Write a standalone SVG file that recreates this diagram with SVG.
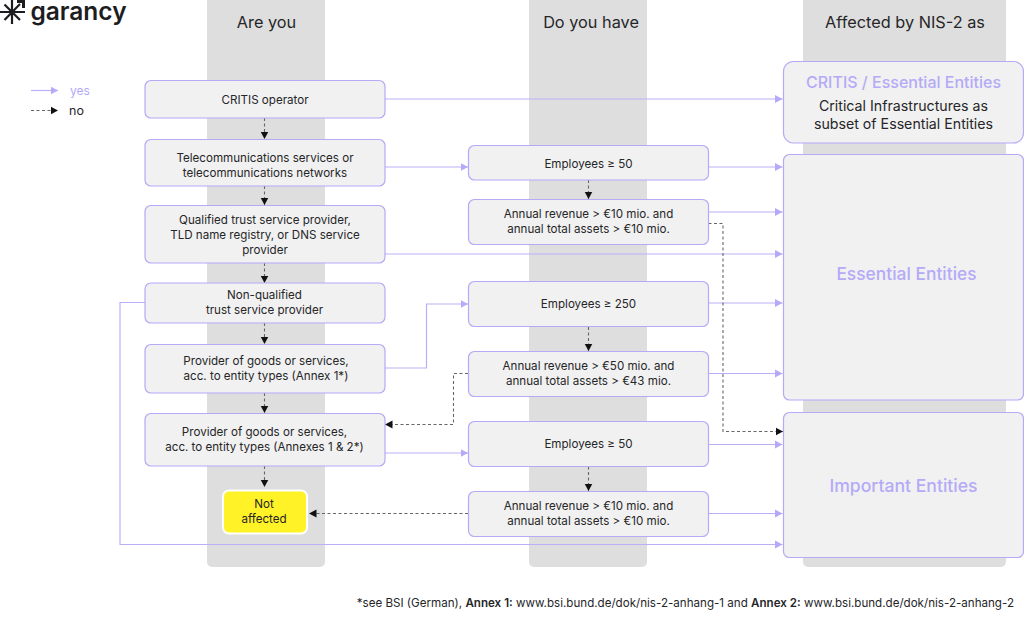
<svg xmlns="http://www.w3.org/2000/svg" width="1024" height="618" viewBox="0 0 1024 618">
<style>
text{font-family:Inter,"Noto Sans","Liberation Sans",sans-serif;fill:#262628;text-anchor:middle}
.t{font-size:11.600px}
.h{font-size:16.300px}
.col{fill:#dedede}
.n{fill:#f1f1f1;stroke:#b4aaf7;stroke-width:1.2}
.y{fill:none;stroke:#b9b0f8;stroke-width:1.2}
.d{fill:none;stroke:#666;stroke-width:1.1;stroke-dasharray:3 2.5}
.big{fill:#b4aaf7;font-weight:500}
</style>
<defs>
<marker id="ay" markerUnits="userSpaceOnUse" markerWidth="8" markerHeight="9" refX="7.500" refY="4.500" orient="auto"><path d="M0 .5L7.500 4.500L0 8.500Z" fill="#b4aaf7"/></marker>
<marker id="ad" markerUnits="userSpaceOnUse" markerWidth="8" markerHeight="9" refX="7.500" refY="4.500" orient="auto"><path d="M0 .5L7.500 4.500L0 8.500Z" fill="#111"/></marker>
</defs>
<g id="columns">
<rect class="col" x="207" y="-8" width="118" height="575" rx="5"/>
<rect class="col" x="529" y="-8" width="118" height="575" rx="5"/>
<rect class="col" x="803" y="-8" width="203" height="575" rx="5"/>
<text class="h" x="266.500" y="28">Are you</text>
<text class="h" x="591" y="28">Do you have</text>
<text class="h" x="905" y="28">Affected by NIS-2 as</text>
</g>
<g id="logo">
<path d="M12 0V24M0 12H25M4.500 4.500L20 20M4.500 20L20 4" fill="none" stroke="#1d1d1f" stroke-width="2.200"/>
<path d="M17 0H25V8L22 8V3H17Z" fill="#1d1d1f"/>
<text x="78.500" y="19.500" style="font-size:24.500px;font-weight:600;fill:#1d1d1f">garancy</text>
</g>
<g id="legend">
<path class="y" d="M31 90.500H58" marker-end="url(#ay)"/>
<text x="80" y="94.500" class="t" style="fill:#b4aaf7;font-size:12px">yes</text>
<path class="d" d="M31 110.500H58" marker-end="url(#ad)"/>
<text x="76.500" y="115" class="t" style="font-size:12.500px">no</text>
</g>
<g id="connectors">
<path class="y" d="M385 99H782.500" marker-end="url(#ay)"/>
<path class="y" d="M385 167H468" marker-end="url(#ay)"/>
<path class="y" d="M708.500 167H782.500" marker-end="url(#ay)"/>
<path class="y" d="M708.500 212H782.500" marker-end="url(#ay)"/>
<path class="y" d="M385 254H782.500" marker-end="url(#ay)"/>
<path class="y" d="M708.500 303H782.500" marker-end="url(#ay)"/>
<path class="y" d="M385 368H426.500V304H468" marker-end="url(#ay)"/>
<path class="y" d="M708.500 373.500H782.500" marker-end="url(#ay)"/>
<path class="y" d="M385 453H468" marker-end="url(#ay)"/>
<path class="y" d="M708.500 444.500H782.500" marker-end="url(#ay)"/>
<path class="y" d="M708.500 513.500H782.500" marker-end="url(#ay)"/>
<path class="y" d="M145 302.500H120V544.500H782.500" marker-end="url(#ay)"/>
<path class="d" d="M264.500 118V139" marker-end="url(#ad)"/>
<path class="d" d="M264.500 186V205" marker-end="url(#ad)"/>
<path class="d" d="M264.500 263V283" marker-end="url(#ad)"/>
<path class="d" d="M264.500 323V344" marker-end="url(#ad)"/>
<path class="d" d="M264.500 393V413" marker-end="url(#ad)"/>
<path class="d" d="M264.500 466V487" marker-end="url(#ad)"/>
<path class="d" d="M588.500 180V199" marker-end="url(#ad)"/>
<path class="d" d="M588.500 327V351" marker-end="url(#ad)"/>
<path class="d" d="M588.500 466.500V491" marker-end="url(#ad)"/>
<path class="d" d="M708.500 223.500H723V431.500H783" marker-end="url(#ad)"/>
<path class="d" d="M468 373.500H453.500V424.500H385" marker-end="url(#ad)"/>
<path class="d" d="M468 513.500H309" marker-end="url(#ad)"/>
</g>
<g id="n1"><rect class="n" x="145" y="80.500" width="240" height="37.500" rx="6"/><text class="t" x="265" y="104">CRITIS operator</text></g>
<g id="n2"><rect class="n" x="145" y="139.500" width="240" height="46.500" rx="6"/><text class="t" x="265" y="162">Telecommunications services or</text><text class="t" x="265" y="177">telecommunications networks</text></g>
<g id="n3"><rect class="n" x="145" y="205.500" width="240" height="57.500" rx="6"/><text class="t" x="265" y="224">Qualified trust service provider,</text><text class="t" x="265" y="239">TLD name registry, or DNS service</text><text class="t" x="265" y="254">provider</text></g>
<g id="n4"><rect class="n" x="145" y="283" width="240" height="40" rx="6"/><text class="t" x="264.500" y="299">Non-qualified</text><text class="t" x="264.500" y="314">trust service provider</text></g>
<g id="n5"><rect class="n" x="145" y="344.500" width="240" height="48.500" rx="6"/><text class="t" x="266" y="365">Provider of goods or services,</text><text class="t" x="266" y="380">acc. to entity types (Annex 1*)</text></g>
<g id="n6"><rect class="n" x="145" y="413.500" width="240" height="52.500" rx="6"/><text class="t" x="264.500" y="436">Provider of goods or services,</text><text class="t" x="264.500" y="451">acc. to entity types (Annexes 1 &amp; 2*)</text></g>
<g id="n7"><rect x="223" y="490.500" width="84" height="43" rx="6" fill="#fff226" stroke="#fff" stroke-width="2"/><text class="t" x="264" y="508">Not</text><text class="t" x="264" y="523">affected</text></g>
<g id="m1"><rect class="n" x="468.500" y="145.500" width="240" height="34.500" rx="6"/><text class="t" x="588.500" y="168">Employees ≥ 50</text></g>
<g id="m2"><rect class="n" x="468.500" y="199.500" width="240" height="45" rx="6"/><text class="t" x="588.500" y="218">Annual revenue &gt; €10 mio. and</text><text class="t" x="588.500" y="233">annual total assets &gt; €10 mio.</text></g>
<g id="m3"><rect class="n" x="468.500" y="281.500" width="240" height="45" rx="6"/><text class="t" x="588.500" y="308">Employees ≥ 250</text></g>
<g id="m4"><rect class="n" x="468.500" y="351.500" width="240" height="45" rx="6"/><text class="t" x="588.500" y="370">Annual revenue &gt; €50 mio. and</text><text class="t" x="588.500" y="385">annual total assets &gt; €43 mio.</text></g>
<g id="m5"><rect class="n" x="468.500" y="421.500" width="240" height="45" rx="6"/><text class="t" x="588.500" y="448">Employees ≥ 50</text></g>
<g id="m6"><rect class="n" x="468.500" y="491.500" width="240" height="45" rx="6"/><text class="t" x="588.500" y="510">Annual revenue &gt; €10 mio. and</text><text class="t" x="588.500" y="525">annual total assets &gt; €10 mio.</text></g>
<g id="r1"><rect class="n" x="783.500" y="61.500" width="240" height="81.500" rx="10"/><text class="big" x="903.500" y="88" style="font-size:16px">CRITIS / Essential Entities</text><text x="903.500" y="111" style="font-size:14.200px">Critical Infrastructures as</text><text x="903.500" y="129" style="font-size:14.200px">subset of Essential Entities</text></g>
<g id="r2"><rect class="n" x="783.500" y="154.500" width="240" height="245.500" rx="6"/><text class="big" x="906.500" y="280" style="font-size:17.400px">Essential Entities</text></g>
<g id="r3"><rect class="n" x="783.500" y="412.500" width="240" height="145" rx="6"/><text class="big" x="903.500" y="492" style="font-size:17.600px">Important Entities</text></g>
<g id="footnote"><text x="1014" y="607" style="font-size:11.600px;text-anchor:end">*see BSI (German), <tspan font-weight="600">Annex 1:</tspan> www.bsi.bund.de/dok/nis-2-anhang-1 and <tspan font-weight="600">Annex 2:</tspan> www.bsi.bund.de/dok/nis-2-anhang-2</text></g>
</svg>
